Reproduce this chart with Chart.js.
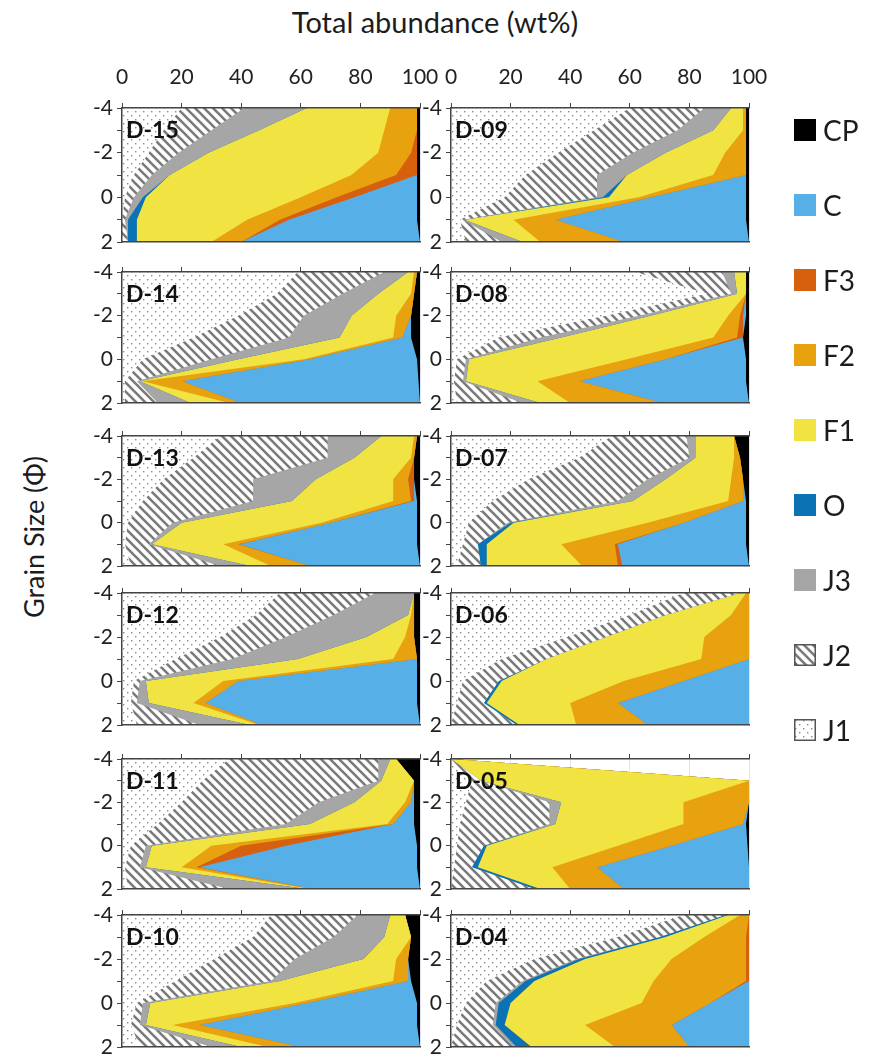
<!DOCTYPE html>
<html>
<head>
<meta charset="utf-8">
<script src="https://cdn.jsdelivr.net/npm/chart.js@4.4.1/dist/chart.umd.min.js"></script>
<style>
  body { margin: 0; background: #fff; }
  #page { position: relative; width: 881px; height: 1059px; overflow: hidden;
          font-family: Lato, "Open Sans", sans-serif; color: #1c1c1c; }
  #page canvas.panel { position: absolute; }
  .title { position: absolute; left: 0; width: 870px; top: 4px; text-align: center;
           font-size: 29px; line-height: 36px; }
  .ytitle { position: absolute; left: 33px; top: 537px; white-space: nowrap;
            transform: translate(-50%, -50%) rotate(-90deg); font-size: 27px; }
  .tag { position: absolute; font-weight: bold; font-size: 23px; line-height: 24px; color: #111; }
  .leg { position: absolute; left: 794px; height: 30px; display: flex; align-items: center; font-size: 28px; }
  .leg canvas { margin-right: 7px; }
</style>
</head>
<body>
<div id="page">
  <div class="title">Total abundance (wt%)</div>
  <div class="ytitle">Grain Size (Φ)</div>
</div>
<script>
// Componentes (de izquierda a derecha en cada panel)
const components = ['J1', 'J2', 'J3', 'O', 'F1', 'F2', 'F3', 'C', 'CP'];
const phiLabels = ['-4', '-3', '-2', '-1', '0', '1', '2'];
const xTickLabels = [0, 20, 40, 60, 80, 100];

// wt% por componente, de phi -4 a phi 2
const D15 = {
    J1: [20, 14, 9, 4, 1, 0, 0],
    J2: [21, 16, 10, 6, 3, 1, 2],
    J3: [21, 16, 10, 6, 3, 1, 0],
    O:  [0, 0, 0, 0, 1, 3, 3],
    F1: [28, 42, 57, 61, 52, 37, 25],
    F2: [9, 11, 11, 15, 12, 11, 10],
    F3: [0, 0, 2, 7, 6, 3, 0],
    C:  [0, 0, 0, 0, 21, 43, 60],
    CP: [1, 1, 1, 1, 1, 1, 0]
};
const D09 = {
    J1: [60, 48, 36, 25, 18, 3, 5],
    J2: [25, 28, 25, 24, 31, 1, 12],
    J3: [9, 12, 11, 10, 2, 0.5, 7],
    O:  [0, 0, 0, 0, 2, 0, 0],
    F1: [4, 10, 20, 29, 10, 16.5, 6],
    F2: [1, 1, 7, 11, 4, 14, 28],
    F3: [0, 0, 0, 0, 0, 0, 0],
    C:  [0, 0, 0, 0, 32, 64, 42],
    CP: [1, 1, 1, 1, 1, 1, 0]
};
const D14 = {
    J1: [59, 52, 39, 24, 7, 1, 1],
    J2: [29, 22, 22, 32, 23, 4, 11],
    J3: [8, 12, 16, 17, 9, 1, 11],
    O:  [0, 0, 0, 0, 0, 0, 0],
    F1: [2, 11, 15, 18, 22, 1, 13],
    F2: [1, 1, 5, 3, 2, 13, 4],
    F3: [0, 0, 0, 0, 0, 0, 0],
    C:  [0, 0, 0, 3, 36, 79.5, 60],
    CP: [1, 2, 3, 3, 1, 0.5, 0]
};
const D08 = {
    J1: [62, 86, 52, 16, 2, 1, 2],
    J2: [29, 8, 11, 14, 3, 3, 22],
    J3: [4, 2, 4, 7, 1, 1, 6],
    O:  [0, 0, 0, 0, 0, 0, 0],
    F1: [4, 3, 26, 51, 53, 24, 10],
    F2: [0, 0, 4, 8, 13, 14, 31],
    F3: [0, 0, 1, 2, 0, 0, 0],
    C:  [0, 0, 1, 0, 27, 56, 29],
    CP: [1, 1, 1, 2, 1, 1, 0]
};
const D13 = {
    J1: [33, 24, 14, 7, 2, 1, 3],
    J2: [36, 45, 30, 37, 15, 8, 30],
    J3: [18, 9, 21, 13, 3, 1, 10],
    O:  [0, 0, 0, 0, 0, 0, 0],
    F1: [11, 19, 26, 34, 47, 24, 7],
    F2: [1, 1, 5, 6, 3, 5, 13],
    F3: [0, 0, 2, 1, 0, 0.5, 0],
    C:  [0, 0, 0, 1, 29, 59.5, 37],
    CP: [1, 2, 2, 1, 1, 1, 0]
};
const D07 = {
    J1: [54, 43, 26, 14, 6, 4, 2],
    J2: [25, 37, 40, 42, 13, 5, 8],
    J3: [3, 2, 6, 5, 1, 0, 0],
    O:  [0, 0, 0, 0, 1, 3, 2],
    F1: [13, 13, 22, 32, 45, 25, 32],
    F2: [0, 2, 4, 5, 12, 18, 12],
    F3: [0, 0, 0, 0, 0, 1, 1.5],
    C:  [0, 0, 0, 1, 21, 43, 42.5],
    CP: [5, 3, 2, 1, 1, 1, 0]
};
const D12 = {
    J1: [53, 45, 33, 18, 4, 3, 5],
    J2: [32, 26, 22, 19, 2, 2, 21],
    J3: [13, 25, 27, 22, 2, 4, 17],
    O:  [0, 0, 0, 0, 0, 0, 0],
    F1: [0, 1, 13, 32, 26, 15, 3],
    F2: [0, 1, 3, 8, 5, 4, 1],
    F3: [0, 0, 0, 0, 0, 0, 0],
    C:  [0, 0, 0, 0, 60, 71, 53],
    CP: [2, 2, 2, 1, 1, 1, 0]
};
const D06 = {
    J1: [78, 60, 39, 17, 4, 2, 0],
    J2: [19, 12, 13, 15, 12, 9, 22],
    J3: [0, 0, 0, 0, 0, 0, 0],
    O:  [0, 0, 0, 0, 1, 1, 1],
    F1: [2, 22, 33, 52, 41, 28, 19],
    F2: [1, 6, 15, 16, 20, 16, 24],
    F3: [0, 0, 0, 0, 0, 0, 0],
    C:  [0, 0, 0, 0, 22, 44, 34],
    CP: [0, 0, 0, 0, 0, 0, 0]
};
const D11 = {
    J1: [36, 27, 20, 12, 3, 1, 2],
    J2: [50, 59, 46, 43, 5, 5, 34],
    J3: [4, 1, 12, 8, 2, 2, 26],
    O:  [0, 0, 0, 0, 0, 0, 0],
    F1: [2, 11, 17, 26, 20, 12, 1],
    F2: [0, 0, 2, 2, 10, 5, 1],
    F3: [0, 0, 0, 0, 15, 1, 0],
    C:  [0, 0, 1, 7, 44, 73, 36],
    CP: [8, 2, 2, 2, 1, 1, 0]
};
const D05 = {
    J1: [0, 7, 5, 3, 2, 1, 0],
    J2: [0, 3, 28, 30, 9, 6, 28],
    J3: [0, 0, 4, 2, 0, 0, 0],
    O:  [0, 0, 0, 0, 1, 2, 2],
    F1: [0, 90, 41, 43, 44, 25, 10],
    F2: [0, 0, 22, 20, 18, 15, 18],
    F3: [0, 0, 0, 0, 0, 0, 0],
    C:  [0, 0, 0, 1, 25.5, 51, 42],
    CP: [0, 0, 0, 1, 0.5, 0, 0]
};
const D10 = {
    J1: [50, 44, 31, 18, 5, 3, 6],
    J2: [29, 27, 27, 32, 2, 3, 24],
    J3: [11, 17, 23, 3, 2.5, 2, 10],
    O:  [0, 0, 0, 0, 0, 0, 0],
    F1: [5, 9, 11, 38, 48.5, 9, 9],
    F2: [0, 0, 4, 5, 4, 9, 11],
    F3: [0, 0, 0, 0, 0, 0, 0],
    C:  [0, 0, 0, 1, 37, 73, 40],
    CP: [5, 3, 4, 3, 1, 1, 0]
};
const D04 = {
    J1: [78, 56, 28, 12, 5, 2, 0],
    J2: [14, 14, 14, 12, 10, 12, 21],
    J3: [0, 0, 1, 1, 1, 1, 1],
    O:  [1, 2, 2, 3, 4, 3, 5],
    F1: [4, 13, 29, 40, 44, 27, 28],
    F2: [3, 14, 25, 31, 23, 29, 25],
    F3: [0, 1, 1, 1, 0, 0, 0],
    C:  [0, 0, 0, 0, 13, 26, 20],
    CP: [0, 0, 0, 0, 0, 0, 0]
};

const panels = [
    { name: 'D-15', data: D15, col: 0, row: 0 }, { name: 'D-09', data: D09, col: 1, row: 0 },
    { name: 'D-14', data: D14, col: 0, row: 1 }, { name: 'D-08', data: D08, col: 1, row: 1 },
    { name: 'D-13', data: D13, col: 0, row: 2 }, { name: 'D-07', data: D07, col: 1, row: 2 },
    { name: 'D-12', data: D12, col: 0, row: 3 }, { name: 'D-06', data: D06, col: 1, row: 3 },
    { name: 'D-11', data: D11, col: 0, row: 4 }, { name: 'D-05', data: D05, col: 1, row: 4 },
    { name: 'D-10', data: D10, col: 0, row: 5 }, { name: 'D-04', data: D04, col: 1, row: 5 }
];

// Geometria de la pagina
const colX = [122, 451];
const plotW = 298;
const rowTop = [108, 272, 436, 593, 759, 915];
const rowH = [134, 131, 130, 132, 130, 132];
const AXIS_W = 40, TOP_H = 50, PAD_R = 24, PAD_B = 15;
const FONT = 'Lato, "Open Sans", sans-serif';

// Tramas
function makePattern(kind) {
    const s = kind === 'hatch' ? 9 : 8;
    const c = document.createElement('canvas');
    c.width = s; c.height = s;
    const g = c.getContext('2d');
    g.fillStyle = '#fff';
    g.fillRect(0, 0, s, s);
    if (kind === 'hatch') {
        g.strokeStyle = '#7a7a7a';
        g.lineWidth = 2.6;
        g.beginPath();
        [-s, 0, s].forEach(k => { g.moveTo(k - 1, -1); g.lineTo(k + s + 1, s + 1); });
        g.stroke();
    } else {
        g.fillStyle = '#8a8a8a';
        g.fillRect(1, 1, 1.4, 1.4);
        g.fillRect(5, 5, 1.4, 1.4);
    }
    return g.createPattern(c, 'repeat');
}

const fills = {
    J1: makePattern('dots'),
    J2: makePattern('hatch'),
    J3: '#a6a6a6',
    O: '#0b72b3',
    F1: '#f1e341',
    F2: '#e8a10f',
    F3: '#d6600d',
    C: '#56b0e7',
    CP: '#000000'
};

Chart.defaults.font.family = FONT;

const page = document.getElementById('page');

panels.forEach(p => {
    const plotLeft = colX[p.col];
    const top = rowTop[p.row];
    const cv = document.createElement('canvas');
    cv.className = 'panel';
    cv.width = AXIS_W + plotW + PAD_R;
    cv.height = TOP_H + rowH[p.row] + PAD_B;
    cv.style.left = (plotLeft - AXIS_W) + 'px';
    cv.style.top = (top - TOP_H) + 'px';
    page.appendChild(cv);

    const tag = document.createElement('div');
    tag.className = 'tag';
    tag.textContent = p.name;
    tag.style.left = (plotLeft + 4) + 'px';
    tag.style.top = (top + 9) + 'px';
    page.appendChild(tag);

    new Chart(cv, {
        type: 'line',
        data: {
            labels: phiLabels,
            datasets: components.map(k => ({
                label: k,
                data: p.data[k],
                backgroundColor: fills[k],
                borderWidth: 0,
                pointRadius: 0,
                tension: 0,
                fill: 'origin'
            }))
        },
        options: {
            indexAxis: 'y',
            responsive: false,
            animation: false,
            layout: { padding: { left: 0, right: PAD_R, top: 0, bottom: PAD_B } },
            plugins: { legend: { display: false }, tooltip: { enabled: false } },
            scales: {
                x: {
                    type: 'linear', position: 'top', min: 0, max: 100, stacked: true,
                    afterBuildTicks: s => { s.ticks = xTickLabels.map(v => ({ value: v })); },
                    ticks: { display: p.row === 0, font: { size: 21 }, color: '#222', padding: 13, maxRotation: 0 },
                    grid: { color: '#dfe5ee', tickColor: '#444', tickLength: 5 },
                    border: { color: '#444', width: 1.5, z: 1 },
                    afterFit: s => { s.height = TOP_H; s.paddingLeft = 0; s.paddingRight = 0; }
                },
                x2: {
                    type: 'linear', position: 'bottom', min: 0, max: 100,
                    ticks: { display: false },
                    grid: { color: 'rgba(0,0,0,0)', drawTicks: false },
                    border: { color: '#444', width: 1.5, z: 1 },
                    afterFit: s => { s.height = 0; s.paddingLeft = 0; s.paddingRight = 0; }
                },
                y: {
                    type: 'category', position: 'left', offset: false,
                    ticks: {
                        autoSkip: false, font: { size: 21 }, color: '#222', padding: 4,
                        callback: (v, i) => (i % 2 === 0 ? phiLabels[i] : '')
                    },
                    grid: { drawOnChartArea: false, tickColor: '#444', tickLength: 5 },
                    border: { color: '#444', width: 1.5, z: 1 },
                    afterFit: s => { s.width = AXIS_W; s.paddingTop = 0; s.paddingBottom = 0; }
                }
            }
        }
    });
});

// Leyenda
const legendY = [130, 205, 280, 355, 430, 505, 580, 655, 730];
components.slice().reverse().forEach((k, i) => {
    const item = document.createElement('div');
    item.className = 'leg';
    item.style.top = (legendY[i] - 15) + 'px';
    const sw = document.createElement('canvas');
    sw.width = 22; sw.height = 22;
    const g = sw.getContext('2d');
    g.fillStyle = fills[k];
    g.fillRect(0, 0, 22, 22);
    if (k === 'J1' || k === 'J2') {
        g.strokeStyle = '#555';
        g.lineWidth = 1.5;
        g.strokeRect(0.75, 0.75, 20.5, 20.5);
    }
    item.appendChild(sw);
    const txt = document.createElement('span');
    txt.textContent = k;
    item.appendChild(txt);
    page.appendChild(item);
});
</script>
</body>
</html>
